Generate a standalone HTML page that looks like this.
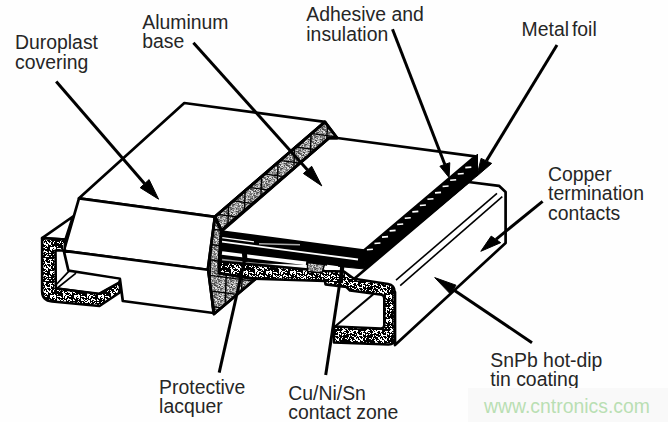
<!DOCTYPE html>
<html><head><meta charset="utf-8"><style>
html,body{margin:0;padding:0;background:#fff;}
svg{display:block;}
text{font-family:"Liberation Sans",sans-serif;font-size:19.4px;fill:#262626;}
</style></head><body>
<svg width="668" height="422" viewBox="0 0 668 422">
<defs><pattern id="st" width="24" height="24" patternUnits="userSpaceOnUse"><rect width="24" height="24" fill="#fff"/><g fill="#000"><rect x="0" y="0" width="1" height="1"/><rect x="1" y="0" width="1" height="1"/><rect x="3" y="0" width="1" height="1"/><rect x="4" y="0" width="1" height="1"/><rect x="5" y="0" width="1" height="1"/><rect x="6" y="0" width="1" height="1"/><rect x="7" y="0" width="1" height="1"/><rect x="8" y="0" width="1" height="1"/><rect x="9" y="0" width="1" height="1"/><rect x="10" y="0" width="1" height="1"/><rect x="11" y="0" width="1" height="1"/><rect x="12" y="0" width="1" height="1"/><rect x="14" y="0" width="1" height="1"/><rect x="15" y="0" width="1" height="1"/><rect x="18" y="0" width="1" height="1"/><rect x="19" y="0" width="1" height="1"/><rect x="21" y="0" width="1" height="1"/><rect x="23" y="0" width="1" height="1"/><rect x="0" y="1" width="1" height="1"/><rect x="1" y="1" width="1" height="1"/><rect x="2" y="1" width="1" height="1"/><rect x="4" y="1" width="1" height="1"/><rect x="5" y="1" width="1" height="1"/><rect x="7" y="1" width="1" height="1"/><rect x="8" y="1" width="1" height="1"/><rect x="9" y="1" width="1" height="1"/><rect x="10" y="1" width="1" height="1"/><rect x="11" y="1" width="1" height="1"/><rect x="13" y="1" width="1" height="1"/><rect x="14" y="1" width="1" height="1"/><rect x="15" y="1" width="1" height="1"/><rect x="16" y="1" width="1" height="1"/><rect x="17" y="1" width="1" height="1"/><rect x="20" y="1" width="1" height="1"/><rect x="21" y="1" width="1" height="1"/><rect x="22" y="1" width="1" height="1"/><rect x="1" y="2" width="1" height="1"/><rect x="3" y="2" width="1" height="1"/><rect x="4" y="2" width="1" height="1"/><rect x="6" y="2" width="1" height="1"/><rect x="7" y="2" width="1" height="1"/><rect x="8" y="2" width="1" height="1"/><rect x="11" y="2" width="1" height="1"/><rect x="13" y="2" width="1" height="1"/><rect x="15" y="2" width="1" height="1"/><rect x="16" y="2" width="1" height="1"/><rect x="17" y="2" width="1" height="1"/><rect x="20" y="2" width="1" height="1"/><rect x="22" y="2" width="1" height="1"/><rect x="3" y="3" width="1" height="1"/><rect x="4" y="3" width="1" height="1"/><rect x="6" y="3" width="1" height="1"/><rect x="7" y="3" width="1" height="1"/><rect x="8" y="3" width="1" height="1"/><rect x="9" y="3" width="1" height="1"/><rect x="10" y="3" width="1" height="1"/><rect x="12" y="3" width="1" height="1"/><rect x="13" y="3" width="1" height="1"/><rect x="14" y="3" width="1" height="1"/><rect x="16" y="3" width="1" height="1"/><rect x="17" y="3" width="1" height="1"/><rect x="18" y="3" width="1" height="1"/><rect x="22" y="3" width="1" height="1"/><rect x="23" y="3" width="1" height="1"/><rect x="0" y="4" width="1" height="1"/><rect x="3" y="4" width="1" height="1"/><rect x="4" y="4" width="1" height="1"/><rect x="5" y="4" width="1" height="1"/><rect x="6" y="4" width="1" height="1"/><rect x="7" y="4" width="1" height="1"/><rect x="8" y="4" width="1" height="1"/><rect x="9" y="4" width="1" height="1"/><rect x="10" y="4" width="1" height="1"/><rect x="11" y="4" width="1" height="1"/><rect x="12" y="4" width="1" height="1"/><rect x="13" y="4" width="1" height="1"/><rect x="16" y="4" width="1" height="1"/><rect x="19" y="4" width="1" height="1"/><rect x="0" y="5" width="1" height="1"/><rect x="1" y="5" width="1" height="1"/><rect x="2" y="5" width="1" height="1"/><rect x="4" y="5" width="1" height="1"/><rect x="5" y="5" width="1" height="1"/><rect x="6" y="5" width="1" height="1"/><rect x="7" y="5" width="1" height="1"/><rect x="8" y="5" width="1" height="1"/><rect x="9" y="5" width="1" height="1"/><rect x="10" y="5" width="1" height="1"/><rect x="11" y="5" width="1" height="1"/><rect x="12" y="5" width="1" height="1"/><rect x="13" y="5" width="1" height="1"/><rect x="14" y="5" width="1" height="1"/><rect x="17" y="5" width="1" height="1"/><rect x="18" y="5" width="1" height="1"/><rect x="19" y="5" width="1" height="1"/><rect x="20" y="5" width="1" height="1"/><rect x="21" y="5" width="1" height="1"/><rect x="0" y="6" width="1" height="1"/><rect x="1" y="6" width="1" height="1"/><rect x="2" y="6" width="1" height="1"/><rect x="3" y="6" width="1" height="1"/><rect x="4" y="6" width="1" height="1"/><rect x="5" y="6" width="1" height="1"/><rect x="7" y="6" width="1" height="1"/><rect x="8" y="6" width="1" height="1"/><rect x="10" y="6" width="1" height="1"/><rect x="11" y="6" width="1" height="1"/><rect x="12" y="6" width="1" height="1"/><rect x="13" y="6" width="1" height="1"/><rect x="14" y="6" width="1" height="1"/><rect x="18" y="6" width="1" height="1"/><rect x="19" y="6" width="1" height="1"/><rect x="20" y="6" width="1" height="1"/><rect x="22" y="6" width="1" height="1"/><rect x="0" y="7" width="1" height="1"/><rect x="1" y="7" width="1" height="1"/><rect x="8" y="7" width="1" height="1"/><rect x="9" y="7" width="1" height="1"/><rect x="10" y="7" width="1" height="1"/><rect x="11" y="7" width="1" height="1"/><rect x="12" y="7" width="1" height="1"/><rect x="13" y="7" width="1" height="1"/><rect x="14" y="7" width="1" height="1"/><rect x="17" y="7" width="1" height="1"/><rect x="21" y="7" width="1" height="1"/><rect x="22" y="7" width="1" height="1"/><rect x="23" y="7" width="1" height="1"/><rect x="0" y="8" width="1" height="1"/><rect x="1" y="8" width="1" height="1"/><rect x="5" y="8" width="1" height="1"/><rect x="8" y="8" width="1" height="1"/><rect x="13" y="8" width="1" height="1"/><rect x="14" y="8" width="1" height="1"/><rect x="16" y="8" width="1" height="1"/><rect x="19" y="8" width="1" height="1"/><rect x="20" y="8" width="1" height="1"/><rect x="23" y="8" width="1" height="1"/><rect x="0" y="9" width="1" height="1"/><rect x="1" y="9" width="1" height="1"/><rect x="4" y="9" width="1" height="1"/><rect x="8" y="9" width="1" height="1"/><rect x="9" y="9" width="1" height="1"/><rect x="10" y="9" width="1" height="1"/><rect x="11" y="9" width="1" height="1"/><rect x="14" y="9" width="1" height="1"/><rect x="16" y="9" width="1" height="1"/><rect x="19" y="9" width="1" height="1"/><rect x="20" y="9" width="1" height="1"/><rect x="21" y="9" width="1" height="1"/><rect x="22" y="9" width="1" height="1"/><rect x="23" y="9" width="1" height="1"/><rect x="0" y="10" width="1" height="1"/><rect x="1" y="10" width="1" height="1"/><rect x="2" y="10" width="1" height="1"/><rect x="4" y="10" width="1" height="1"/><rect x="5" y="10" width="1" height="1"/><rect x="6" y="10" width="1" height="1"/><rect x="8" y="10" width="1" height="1"/><rect x="10" y="10" width="1" height="1"/><rect x="11" y="10" width="1" height="1"/><rect x="12" y="10" width="1" height="1"/><rect x="13" y="10" width="1" height="1"/><rect x="14" y="10" width="1" height="1"/><rect x="15" y="10" width="1" height="1"/><rect x="16" y="10" width="1" height="1"/><rect x="18" y="10" width="1" height="1"/><rect x="19" y="10" width="1" height="1"/><rect x="21" y="10" width="1" height="1"/><rect x="22" y="10" width="1" height="1"/><rect x="23" y="10" width="1" height="1"/><rect x="0" y="11" width="1" height="1"/><rect x="2" y="11" width="1" height="1"/><rect x="3" y="11" width="1" height="1"/><rect x="4" y="11" width="1" height="1"/><rect x="5" y="11" width="1" height="1"/><rect x="7" y="11" width="1" height="1"/><rect x="8" y="11" width="1" height="1"/><rect x="11" y="11" width="1" height="1"/><rect x="13" y="11" width="1" height="1"/><rect x="14" y="11" width="1" height="1"/><rect x="16" y="11" width="1" height="1"/><rect x="17" y="11" width="1" height="1"/><rect x="18" y="11" width="1" height="1"/><rect x="23" y="11" width="1" height="1"/><rect x="0" y="12" width="1" height="1"/><rect x="3" y="12" width="1" height="1"/><rect x="4" y="12" width="1" height="1"/><rect x="5" y="12" width="1" height="1"/><rect x="6" y="12" width="1" height="1"/><rect x="7" y="12" width="1" height="1"/><rect x="8" y="12" width="1" height="1"/><rect x="12" y="12" width="1" height="1"/><rect x="15" y="12" width="1" height="1"/><rect x="18" y="12" width="1" height="1"/><rect x="20" y="12" width="1" height="1"/><rect x="21" y="12" width="1" height="1"/><rect x="0" y="13" width="1" height="1"/><rect x="1" y="13" width="1" height="1"/><rect x="2" y="13" width="1" height="1"/><rect x="3" y="13" width="1" height="1"/><rect x="4" y="13" width="1" height="1"/><rect x="5" y="13" width="1" height="1"/><rect x="7" y="13" width="1" height="1"/><rect x="8" y="13" width="1" height="1"/><rect x="9" y="13" width="1" height="1"/><rect x="10" y="13" width="1" height="1"/><rect x="11" y="13" width="1" height="1"/><rect x="13" y="13" width="1" height="1"/><rect x="14" y="13" width="1" height="1"/><rect x="18" y="13" width="1" height="1"/><rect x="19" y="13" width="1" height="1"/><rect x="20" y="13" width="1" height="1"/><rect x="22" y="13" width="1" height="1"/><rect x="23" y="13" width="1" height="1"/><rect x="0" y="14" width="1" height="1"/><rect x="3" y="14" width="1" height="1"/><rect x="4" y="14" width="1" height="1"/><rect x="6" y="14" width="1" height="1"/><rect x="8" y="14" width="1" height="1"/><rect x="9" y="14" width="1" height="1"/><rect x="11" y="14" width="1" height="1"/><rect x="12" y="14" width="1" height="1"/><rect x="16" y="14" width="1" height="1"/><rect x="18" y="14" width="1" height="1"/><rect x="20" y="14" width="1" height="1"/><rect x="21" y="14" width="1" height="1"/><rect x="22" y="14" width="1" height="1"/><rect x="0" y="15" width="1" height="1"/><rect x="1" y="15" width="1" height="1"/><rect x="2" y="15" width="1" height="1"/><rect x="3" y="15" width="1" height="1"/><rect x="4" y="15" width="1" height="1"/><rect x="5" y="15" width="1" height="1"/><rect x="6" y="15" width="1" height="1"/><rect x="7" y="15" width="1" height="1"/><rect x="8" y="15" width="1" height="1"/><rect x="9" y="15" width="1" height="1"/><rect x="11" y="15" width="1" height="1"/><rect x="12" y="15" width="1" height="1"/><rect x="13" y="15" width="1" height="1"/><rect x="14" y="15" width="1" height="1"/><rect x="15" y="15" width="1" height="1"/><rect x="16" y="15" width="1" height="1"/><rect x="17" y="15" width="1" height="1"/><rect x="19" y="15" width="1" height="1"/><rect x="20" y="15" width="1" height="1"/><rect x="21" y="15" width="1" height="1"/><rect x="23" y="15" width="1" height="1"/><rect x="1" y="16" width="1" height="1"/><rect x="2" y="16" width="1" height="1"/><rect x="4" y="16" width="1" height="1"/><rect x="5" y="16" width="1" height="1"/><rect x="8" y="16" width="1" height="1"/><rect x="12" y="16" width="1" height="1"/><rect x="13" y="16" width="1" height="1"/><rect x="14" y="16" width="1" height="1"/><rect x="15" y="16" width="1" height="1"/><rect x="16" y="16" width="1" height="1"/><rect x="18" y="16" width="1" height="1"/><rect x="19" y="16" width="1" height="1"/><rect x="20" y="16" width="1" height="1"/><rect x="0" y="17" width="1" height="1"/><rect x="1" y="17" width="1" height="1"/><rect x="2" y="17" width="1" height="1"/><rect x="3" y="17" width="1" height="1"/><rect x="4" y="17" width="1" height="1"/><rect x="5" y="17" width="1" height="1"/><rect x="6" y="17" width="1" height="1"/><rect x="9" y="17" width="1" height="1"/><rect x="10" y="17" width="1" height="1"/><rect x="12" y="17" width="1" height="1"/><rect x="13" y="17" width="1" height="1"/><rect x="14" y="17" width="1" height="1"/><rect x="15" y="17" width="1" height="1"/><rect x="16" y="17" width="1" height="1"/><rect x="17" y="17" width="1" height="1"/><rect x="18" y="17" width="1" height="1"/><rect x="19" y="17" width="1" height="1"/><rect x="20" y="17" width="1" height="1"/><rect x="21" y="17" width="1" height="1"/><rect x="22" y="17" width="1" height="1"/><rect x="23" y="17" width="1" height="1"/><rect x="0" y="18" width="1" height="1"/><rect x="1" y="18" width="1" height="1"/><rect x="2" y="18" width="1" height="1"/><rect x="3" y="18" width="1" height="1"/><rect x="4" y="18" width="1" height="1"/><rect x="5" y="18" width="1" height="1"/><rect x="10" y="18" width="1" height="1"/><rect x="11" y="18" width="1" height="1"/><rect x="13" y="18" width="1" height="1"/><rect x="16" y="18" width="1" height="1"/><rect x="22" y="18" width="1" height="1"/><rect x="23" y="18" width="1" height="1"/><rect x="0" y="19" width="1" height="1"/><rect x="4" y="19" width="1" height="1"/><rect x="8" y="19" width="1" height="1"/><rect x="9" y="19" width="1" height="1"/><rect x="10" y="19" width="1" height="1"/><rect x="11" y="19" width="1" height="1"/><rect x="12" y="19" width="1" height="1"/><rect x="14" y="19" width="1" height="1"/><rect x="18" y="19" width="1" height="1"/><rect x="19" y="19" width="1" height="1"/><rect x="22" y="19" width="1" height="1"/><rect x="23" y="19" width="1" height="1"/><rect x="1" y="20" width="1" height="1"/><rect x="3" y="20" width="1" height="1"/><rect x="4" y="20" width="1" height="1"/><rect x="5" y="20" width="1" height="1"/><rect x="7" y="20" width="1" height="1"/><rect x="10" y="20" width="1" height="1"/><rect x="11" y="20" width="1" height="1"/><rect x="12" y="20" width="1" height="1"/><rect x="17" y="20" width="1" height="1"/><rect x="18" y="20" width="1" height="1"/><rect x="19" y="20" width="1" height="1"/><rect x="21" y="20" width="1" height="1"/><rect x="22" y="20" width="1" height="1"/><rect x="23" y="20" width="1" height="1"/><rect x="0" y="21" width="1" height="1"/><rect x="1" y="21" width="1" height="1"/><rect x="5" y="21" width="1" height="1"/><rect x="6" y="21" width="1" height="1"/><rect x="7" y="21" width="1" height="1"/><rect x="8" y="21" width="1" height="1"/><rect x="9" y="21" width="1" height="1"/><rect x="11" y="21" width="1" height="1"/><rect x="14" y="21" width="1" height="1"/><rect x="15" y="21" width="1" height="1"/><rect x="18" y="21" width="1" height="1"/><rect x="19" y="21" width="1" height="1"/><rect x="20" y="21" width="1" height="1"/><rect x="22" y="21" width="1" height="1"/><rect x="23" y="21" width="1" height="1"/><rect x="0" y="22" width="1" height="1"/><rect x="1" y="22" width="1" height="1"/><rect x="3" y="22" width="1" height="1"/><rect x="5" y="22" width="1" height="1"/><rect x="8" y="22" width="1" height="1"/><rect x="10" y="22" width="1" height="1"/><rect x="11" y="22" width="1" height="1"/><rect x="12" y="22" width="1" height="1"/><rect x="13" y="22" width="1" height="1"/><rect x="14" y="22" width="1" height="1"/><rect x="15" y="22" width="1" height="1"/><rect x="16" y="22" width="1" height="1"/><rect x="17" y="22" width="1" height="1"/><rect x="18" y="22" width="1" height="1"/><rect x="20" y="22" width="1" height="1"/><rect x="23" y="22" width="1" height="1"/><rect x="3" y="23" width="1" height="1"/><rect x="4" y="23" width="1" height="1"/><rect x="5" y="23" width="1" height="1"/><rect x="7" y="23" width="1" height="1"/><rect x="8" y="23" width="1" height="1"/><rect x="9" y="23" width="1" height="1"/><rect x="10" y="23" width="1" height="1"/><rect x="11" y="23" width="1" height="1"/><rect x="12" y="23" width="1" height="1"/><rect x="14" y="23" width="1" height="1"/><rect x="16" y="23" width="1" height="1"/><rect x="17" y="23" width="1" height="1"/><rect x="18" y="23" width="1" height="1"/><rect x="19" y="23" width="1" height="1"/><rect x="20" y="23" width="1" height="1"/></g></pattern><pattern id="st2" width="12" height="12" patternUnits="userSpaceOnUse"><rect x="0" y="0" width="1" height="1" fill="rgb(221,221,221)"/><rect x="1" y="0" width="1" height="1" fill="rgb(162,162,162)"/><rect x="2" y="0" width="1" height="1" fill="rgb(201,201,201)"/><rect x="3" y="0" width="1" height="1" fill="rgb(200,200,200)"/><rect x="4" y="0" width="1" height="1" fill="rgb(112,112,112)"/><rect x="5" y="0" width="1" height="1" fill="rgb(80,80,80)"/><rect x="6" y="0" width="1" height="1" fill="rgb(72,72,72)"/><rect x="7" y="0" width="1" height="1" fill="rgb(165,165,165)"/><rect x="8" y="0" width="1" height="1" fill="rgb(175,175,175)"/><rect x="9" y="0" width="1" height="1" fill="rgb(217,217,217)"/><rect x="10" y="0" width="1" height="1" fill="rgb(95,95,95)"/><rect x="11" y="0" width="1" height="1" fill="rgb(224,224,224)"/><rect x="0" y="1" width="1" height="1" fill="rgb(133,133,133)"/><rect x="1" y="1" width="1" height="1" fill="rgb(184,184,184)"/><rect x="2" y="1" width="1" height="1" fill="rgb(72,72,72)"/><rect x="3" y="1" width="1" height="1" fill="rgb(200,200,200)"/><rect x="4" y="1" width="1" height="1" fill="rgb(92,92,92)"/><rect x="5" y="1" width="1" height="1" fill="rgb(103,103,103)"/><rect x="6" y="1" width="1" height="1" fill="rgb(180,180,180)"/><rect x="7" y="1" width="1" height="1" fill="rgb(166,166,166)"/><rect x="8" y="1" width="1" height="1" fill="rgb(147,147,147)"/><rect x="9" y="1" width="1" height="1" fill="rgb(132,132,132)"/><rect x="10" y="1" width="1" height="1" fill="rgb(136,136,136)"/><rect x="11" y="1" width="1" height="1" fill="rgb(125,125,125)"/><rect x="0" y="2" width="1" height="1" fill="rgb(227,227,227)"/><rect x="1" y="2" width="1" height="1" fill="rgb(126,126,126)"/><rect x="2" y="2" width="1" height="1" fill="rgb(163,163,163)"/><rect x="3" y="2" width="1" height="1" fill="rgb(227,227,227)"/><rect x="4" y="2" width="1" height="1" fill="rgb(121,121,121)"/><rect x="5" y="2" width="1" height="1" fill="rgb(137,137,137)"/><rect x="6" y="2" width="1" height="1" fill="rgb(183,183,183)"/><rect x="7" y="2" width="1" height="1" fill="rgb(202,202,202)"/><rect x="8" y="2" width="1" height="1" fill="rgb(231,231,231)"/><rect x="9" y="2" width="1" height="1" fill="rgb(160,160,160)"/><rect x="10" y="2" width="1" height="1" fill="rgb(90,90,90)"/><rect x="11" y="2" width="1" height="1" fill="rgb(102,102,102)"/><rect x="0" y="3" width="1" height="1" fill="rgb(224,224,224)"/><rect x="1" y="3" width="1" height="1" fill="rgb(101,101,101)"/><rect x="2" y="3" width="1" height="1" fill="rgb(79,79,79)"/><rect x="3" y="3" width="1" height="1" fill="rgb(113,113,113)"/><rect x="4" y="3" width="1" height="1" fill="rgb(188,188,188)"/><rect x="5" y="3" width="1" height="1" fill="rgb(187,187,187)"/><rect x="6" y="3" width="1" height="1" fill="rgb(200,200,200)"/><rect x="7" y="3" width="1" height="1" fill="rgb(116,116,116)"/><rect x="8" y="3" width="1" height="1" fill="rgb(175,175,175)"/><rect x="9" y="3" width="1" height="1" fill="rgb(145,145,145)"/><rect x="10" y="3" width="1" height="1" fill="rgb(175,175,175)"/><rect x="11" y="3" width="1" height="1" fill="rgb(169,169,169)"/><rect x="0" y="4" width="1" height="1" fill="rgb(95,95,95)"/><rect x="1" y="4" width="1" height="1" fill="rgb(200,200,200)"/><rect x="2" y="4" width="1" height="1" fill="rgb(109,109,109)"/><rect x="3" y="4" width="1" height="1" fill="rgb(122,122,122)"/><rect x="4" y="4" width="1" height="1" fill="rgb(83,83,83)"/><rect x="5" y="4" width="1" height="1" fill="rgb(104,104,104)"/><rect x="6" y="4" width="1" height="1" fill="rgb(147,147,147)"/><rect x="7" y="4" width="1" height="1" fill="rgb(202,202,202)"/><rect x="8" y="4" width="1" height="1" fill="rgb(83,83,83)"/><rect x="9" y="4" width="1" height="1" fill="rgb(141,141,141)"/><rect x="10" y="4" width="1" height="1" fill="rgb(121,121,121)"/><rect x="11" y="4" width="1" height="1" fill="rgb(154,154,154)"/><rect x="0" y="5" width="1" height="1" fill="rgb(126,126,126)"/><rect x="1" y="5" width="1" height="1" fill="rgb(205,205,205)"/><rect x="2" y="5" width="1" height="1" fill="rgb(111,111,111)"/><rect x="3" y="5" width="1" height="1" fill="rgb(65,65,65)"/><rect x="4" y="5" width="1" height="1" fill="rgb(165,165,165)"/><rect x="5" y="5" width="1" height="1" fill="rgb(158,158,158)"/><rect x="6" y="5" width="1" height="1" fill="rgb(165,165,165)"/><rect x="7" y="5" width="1" height="1" fill="rgb(194,194,194)"/><rect x="8" y="5" width="1" height="1" fill="rgb(113,113,113)"/><rect x="9" y="5" width="1" height="1" fill="rgb(156,156,156)"/><rect x="10" y="5" width="1" height="1" fill="rgb(129,129,129)"/><rect x="11" y="5" width="1" height="1" fill="rgb(146,146,146)"/><rect x="0" y="6" width="1" height="1" fill="rgb(75,75,75)"/><rect x="1" y="6" width="1" height="1" fill="rgb(187,187,187)"/><rect x="2" y="6" width="1" height="1" fill="rgb(131,131,131)"/><rect x="3" y="6" width="1" height="1" fill="rgb(207,207,207)"/><rect x="4" y="6" width="1" height="1" fill="rgb(152,152,152)"/><rect x="5" y="6" width="1" height="1" fill="rgb(92,92,92)"/><rect x="6" y="6" width="1" height="1" fill="rgb(235,235,235)"/><rect x="7" y="6" width="1" height="1" fill="rgb(188,188,188)"/><rect x="8" y="6" width="1" height="1" fill="rgb(195,195,195)"/><rect x="9" y="6" width="1" height="1" fill="rgb(221,221,221)"/><rect x="10" y="6" width="1" height="1" fill="rgb(115,115,115)"/><rect x="11" y="6" width="1" height="1" fill="rgb(83,83,83)"/><rect x="0" y="7" width="1" height="1" fill="rgb(129,129,129)"/><rect x="1" y="7" width="1" height="1" fill="rgb(123,123,123)"/><rect x="2" y="7" width="1" height="1" fill="rgb(158,158,158)"/><rect x="3" y="7" width="1" height="1" fill="rgb(162,162,162)"/><rect x="4" y="7" width="1" height="1" fill="rgb(225,225,225)"/><rect x="5" y="7" width="1" height="1" fill="rgb(174,174,174)"/><rect x="6" y="7" width="1" height="1" fill="rgb(170,170,170)"/><rect x="7" y="7" width="1" height="1" fill="rgb(139,139,139)"/><rect x="8" y="7" width="1" height="1" fill="rgb(65,65,65)"/><rect x="9" y="7" width="1" height="1" fill="rgb(92,92,92)"/><rect x="10" y="7" width="1" height="1" fill="rgb(68,68,68)"/><rect x="11" y="7" width="1" height="1" fill="rgb(168,168,168)"/><rect x="0" y="8" width="1" height="1" fill="rgb(181,181,181)"/><rect x="1" y="8" width="1" height="1" fill="rgb(210,210,210)"/><rect x="2" y="8" width="1" height="1" fill="rgb(185,185,185)"/><rect x="3" y="8" width="1" height="1" fill="rgb(60,60,60)"/><rect x="4" y="8" width="1" height="1" fill="rgb(78,78,78)"/><rect x="5" y="8" width="1" height="1" fill="rgb(160,160,160)"/><rect x="6" y="8" width="1" height="1" fill="rgb(195,195,195)"/><rect x="7" y="8" width="1" height="1" fill="rgb(179,179,179)"/><rect x="8" y="8" width="1" height="1" fill="rgb(174,174,174)"/><rect x="9" y="8" width="1" height="1" fill="rgb(123,123,123)"/><rect x="10" y="8" width="1" height="1" fill="rgb(87,87,87)"/><rect x="11" y="8" width="1" height="1" fill="rgb(117,117,117)"/><rect x="0" y="9" width="1" height="1" fill="rgb(99,99,99)"/><rect x="1" y="9" width="1" height="1" fill="rgb(98,98,98)"/><rect x="2" y="9" width="1" height="1" fill="rgb(193,193,193)"/><rect x="3" y="9" width="1" height="1" fill="rgb(234,234,234)"/><rect x="4" y="9" width="1" height="1" fill="rgb(87,87,87)"/><rect x="5" y="9" width="1" height="1" fill="rgb(239,239,239)"/><rect x="6" y="9" width="1" height="1" fill="rgb(225,225,225)"/><rect x="7" y="9" width="1" height="1" fill="rgb(177,177,177)"/><rect x="8" y="9" width="1" height="1" fill="rgb(81,81,81)"/><rect x="9" y="9" width="1" height="1" fill="rgb(201,201,201)"/><rect x="10" y="9" width="1" height="1" fill="rgb(70,70,70)"/><rect x="11" y="9" width="1" height="1" fill="rgb(60,60,60)"/><rect x="0" y="10" width="1" height="1" fill="rgb(92,92,92)"/><rect x="1" y="10" width="1" height="1" fill="rgb(119,119,119)"/><rect x="2" y="10" width="1" height="1" fill="rgb(205,205,205)"/><rect x="3" y="10" width="1" height="1" fill="rgb(69,69,69)"/><rect x="4" y="10" width="1" height="1" fill="rgb(225,225,225)"/><rect x="5" y="10" width="1" height="1" fill="rgb(137,137,137)"/><rect x="6" y="10" width="1" height="1" fill="rgb(92,92,92)"/><rect x="7" y="10" width="1" height="1" fill="rgb(220,220,220)"/><rect x="8" y="10" width="1" height="1" fill="rgb(124,124,124)"/><rect x="9" y="10" width="1" height="1" fill="rgb(195,195,195)"/><rect x="10" y="10" width="1" height="1" fill="rgb(222,222,222)"/><rect x="11" y="10" width="1" height="1" fill="rgb(171,171,171)"/><rect x="0" y="11" width="1" height="1" fill="rgb(238,238,238)"/><rect x="1" y="11" width="1" height="1" fill="rgb(88,88,88)"/><rect x="2" y="11" width="1" height="1" fill="rgb(85,85,85)"/><rect x="3" y="11" width="1" height="1" fill="rgb(78,78,78)"/><rect x="4" y="11" width="1" height="1" fill="rgb(136,136,136)"/><rect x="5" y="11" width="1" height="1" fill="rgb(194,194,194)"/><rect x="6" y="11" width="1" height="1" fill="rgb(209,209,209)"/><rect x="7" y="11" width="1" height="1" fill="rgb(109,109,109)"/><rect x="8" y="11" width="1" height="1" fill="rgb(159,159,159)"/><rect x="9" y="11" width="1" height="1" fill="rgb(126,126,126)"/><rect x="10" y="11" width="1" height="1" fill="rgb(117,117,117)"/><rect x="11" y="11" width="1" height="1" fill="rgb(213,213,213)"/></pattern></defs>
<rect width="668" height="422" fill="#fefefe"/>
<path d="M354,279 L468.5,182 L499,185.8 L505.6,192 L505.6,243 L395,345 L395,292 Z" fill="#fff" stroke="#000" stroke-width="2.7" stroke-linejoin="round"/><polyline points="497,193.4 396,280.2" fill="none" stroke="#000" stroke-width="1.6" stroke-linejoin="round" stroke-linecap="butt"/><polyline points="502.3,196.6 400.2,285.6" fill="none" stroke="#000" stroke-width="1.6" stroke-linejoin="round" stroke-linecap="butt"/><polygon points="337.2,138 475.4,156.3 364,250.6 221.3,231.6 329,138" fill="#fff" stroke="#000" stroke-linejoin="round" stroke-width="2.7" /><polygon points="475.4,156.3 477.5,154.1 477.5,175.5 365.5,269.1 364,261.3 364,250.6" fill="#000" stroke="#000" stroke-linejoin="round" stroke-width="1" /><polygon points="221.3,231.6 364,250.6 364,261.3 365.5,269.1 344,267 325,265 219.5,261.5" fill="#000" stroke="#000" stroke-linejoin="round" stroke-width="1" /><polyline points="222,237.7 254,241.8" fill="none" stroke="#fff" stroke-width="1.3" stroke-linejoin="round" stroke-linecap="butt"/><polyline points="222,241.6 358,259.5" fill="none" stroke="#fff" stroke-width="1.8" stroke-linejoin="round" stroke-linecap="butt"/><polyline points="222,253 306,263.4" fill="none" stroke="#fff" stroke-width="3.6" stroke-linejoin="round" stroke-linecap="butt"/><polyline points="259,243.8 300,244.8" fill="none" stroke="#aaa" stroke-width="1.4" stroke-linejoin="round" stroke-linecap="butt"/><polyline points="222,259.9 306,269.6" fill="none" stroke="#9a9a9a" stroke-width="2.2" stroke-linejoin="round" stroke-linecap="butt"/><polyline points="327,266 338,267.5" fill="none" stroke="#fff" stroke-width="2.5" stroke-linejoin="round" stroke-linecap="butt"/><line x1="465.3" y1="167.6" x2="471.3" y2="167.1" stroke="#fff" stroke-width="1.6"/><line x1="457.7307692307692" y1="173.9230769230769" x2="463.7307692307692" y2="173.4230769230769" stroke="#fff" stroke-width="1.6"/><line x1="450.16153846153844" y1="180.24615384615385" x2="456.16153846153844" y2="179.74615384615385" stroke="#fff" stroke-width="1.6"/><line x1="442.5923076923077" y1="186.56923076923076" x2="448.5923076923077" y2="186.06923076923076" stroke="#fff" stroke-width="1.6"/><line x1="435.0230769230769" y1="192.8923076923077" x2="441.0230769230769" y2="192.3923076923077" stroke="#fff" stroke-width="1.6"/><line x1="427.45384615384614" y1="199.2153846153846" x2="433.45384615384614" y2="198.7153846153846" stroke="#fff" stroke-width="1.6"/><line x1="419.88461538461536" y1="205.53846153846155" x2="425.88461538461536" y2="205.03846153846155" stroke="#fff" stroke-width="1.6"/><line x1="412.31538461538463" y1="211.86153846153846" x2="418.31538461538463" y2="211.36153846153846" stroke="#fff" stroke-width="1.6"/><line x1="404.74615384615385" y1="218.1846153846154" x2="410.74615384615385" y2="217.6846153846154" stroke="#fff" stroke-width="1.6"/><line x1="397.17692307692306" y1="224.5076923076923" x2="403.17692307692306" y2="224.0076923076923" stroke="#fff" stroke-width="1.6"/><line x1="389.6076923076923" y1="230.83076923076925" x2="395.6076923076923" y2="230.33076923076925" stroke="#fff" stroke-width="1.6"/><line x1="382.03846153846155" y1="237.15384615384616" x2="388.03846153846155" y2="236.65384615384616" stroke="#fff" stroke-width="1.6"/><line x1="374.46923076923076" y1="243.47692307692307" x2="380.46923076923076" y2="242.97692307692307" stroke="#fff" stroke-width="1.6"/><line x1="366.9" y1="249.8" x2="372.9" y2="249.3" stroke="#fff" stroke-width="1.6"/><path d="M219.5,261.5 L325,271 L344,271.5 L354,278.8 L388,284 Q394.6,285 394.6,292 L394.6,339 Q394.6,344.5 388.5,344.5 L334,342.5 L334,326.5 L381,328.5 Q384.3,328.5 384.3,325 L384.3,299 Q384.3,294.5 380,294.5 L350,290.5 L346.5,287 L325.5,284.4 L325,281 L253.5,278.7 L219.5,274.5 Z" fill="url(#st)" stroke="#000" stroke-width="2.6" stroke-linejoin="round"/><polygon points="307.5,262.5 324.5,264.5 322,273 307.5,271.5" fill="url(#st2)" stroke="#000" stroke-linejoin="round" stroke-width="1.4" /><polyline points="335,326.5 373.5,294" fill="none" stroke="#000" stroke-width="2.2" stroke-linejoin="round" stroke-linecap="butt"/><polygon points="79,198.3 184.3,103 324.9,121.9 214.9,216.8" fill="#fff" stroke="#000" stroke-linejoin="round" stroke-width="2.7" /><polygon points="79,198.3 214.9,216.8 209.5,270 63.8,250.8" fill="#fff" stroke="#000" stroke-linejoin="round" stroke-width="2.7" /><polygon points="63.8,250.8 209.5,270 213.5,313 122.8,301 119.9,278.8 68.4,270.5" fill="#fff" stroke="#000" stroke-linejoin="round" stroke-width="2.7" /><polygon points="324.9,121.9 337.2,138 329,138 221.3,230.6 214.9,216.8" fill="url(#st2)" stroke="#000" stroke-linejoin="round" stroke-width="2.6" /><polygon points="214.9,216.8 221.3,230.6 219,262 219,273.2 253.5,278.7 256.4,278.2 214,314 208,268.5" fill="url(#st2)" stroke="#000" stroke-linejoin="round" stroke-width="2.6" /><clipPath id="cs"><polygon points="324.9,121.9 337.2,138 329,138 221.3,230.6 214.9,216.8"/><polygon points="214.9,216.8 221.3,230.6 219,262 219,273.2 253.5,278.7 256.4,278.2 214,314 208,268.5"/></clipPath><g clip-path="url(#cs)" stroke="#000" stroke-width="1.4"><line x1="150" y1="-197.4" x2="400" y2="-164.9" /><line x1="150" y1="-181.9" x2="400" y2="-149.4" /><line x1="150" y1="-166.4" x2="400" y2="-133.9" /><line x1="150" y1="-150.9" x2="400" y2="-118.4" /><line x1="150" y1="-135.4" x2="400" y2="-102.9" /><line x1="150" y1="-119.9" x2="400" y2="-87.4" /><line x1="150" y1="-104.4" x2="400" y2="-71.9" /><line x1="150" y1="-88.9" x2="400" y2="-56.400000000000006" /><line x1="150" y1="-73.4" x2="400" y2="-40.900000000000006" /><line x1="150" y1="-57.900000000000006" x2="400" y2="-25.400000000000006" /><line x1="150" y1="-42.400000000000006" x2="400" y2="-9.900000000000006" /><line x1="150" y1="-26.900000000000006" x2="400" y2="5.599999999999994" /><line x1="150" y1="-11.400000000000006" x2="400" y2="21.099999999999994" /><line x1="150" y1="4.099999999999994" x2="400" y2="36.599999999999994" /><line x1="150" y1="19.599999999999994" x2="400" y2="52.099999999999994" /><line x1="150" y1="35.099999999999994" x2="400" y2="67.6" /><line x1="150" y1="50.599999999999994" x2="400" y2="83.1" /><line x1="150" y1="66.1" x2="400" y2="98.6" /><line x1="150" y1="81.6" x2="400" y2="114.1" /><line x1="150" y1="97.1" x2="400" y2="129.6" /><line x1="150" y1="112.6" x2="400" y2="145.1" /><line x1="150" y1="128.1" x2="400" y2="160.6" /><line x1="150" y1="143.6" x2="400" y2="176.1" /><line x1="150" y1="159.1" x2="400" y2="191.6" /><line x1="150" y1="174.6" x2="400" y2="207.1" /><line x1="150" y1="190.1" x2="400" y2="222.6" /><line x1="150" y1="205.6" x2="400" y2="238.1" /><line x1="150" y1="221.1" x2="400" y2="253.6" /><line x1="150" y1="236.60000000000002" x2="400" y2="269.1" /><line x1="150" y1="252.10000000000002" x2="400" y2="284.6" /><line x1="150" y1="267.6" x2="400" y2="300.1" /><line x1="150" y1="283.1" x2="400" y2="315.6" /><line x1="150" y1="298.6" x2="400" y2="331.1" /><line x1="150" y1="314.1" x2="400" y2="346.6" /><line x1="150" y1="329.6" x2="400" y2="362.1" /><line x1="150" y1="345.1" x2="400" y2="377.6" /><line x1="150" y1="360.6" x2="400" y2="393.1" /><line x1="150" y1="376.1" x2="400" y2="408.6" /><line x1="150" y1="391.6" x2="400" y2="424.1" /><line x1="150" y1="407.1" x2="400" y2="439.6" /><line x1="120.25999999999999" y1="100" x2="112.25999999999999" y2="330" /><line x1="136.26" y1="100" x2="128.26" y2="330" /><line x1="152.26" y1="100" x2="144.26" y2="330" /><line x1="168.26" y1="100" x2="160.26" y2="330" /><line x1="184.26" y1="100" x2="176.26" y2="330" /><line x1="200.26" y1="100" x2="192.26" y2="330" /><line x1="216.26" y1="100" x2="208.26" y2="330" /><line x1="232.26" y1="100" x2="224.26" y2="330" /><line x1="248.26" y1="100" x2="240.26" y2="330" /><line x1="264.26" y1="100" x2="256.26" y2="330" /><line x1="280.26" y1="100" x2="272.26" y2="330" /><line x1="296.26" y1="100" x2="288.26" y2="330" /><line x1="312.26" y1="100" x2="304.26" y2="330" /><line x1="328.26" y1="100" x2="320.26" y2="330" /><line x1="344.26" y1="100" x2="336.26" y2="330" /><line x1="360.26" y1="100" x2="352.26" y2="330" /><line x1="376.26" y1="100" x2="368.26" y2="330" /><line x1="392.26" y1="100" x2="384.26" y2="330" /><line x1="408.26" y1="100" x2="400.26" y2="330" /><line x1="424.26" y1="100" x2="416.26" y2="330" /><line x1="440.26" y1="100" x2="432.26" y2="330" /><line x1="456.26" y1="100" x2="448.26" y2="330" /><line x1="472.26" y1="100" x2="464.26" y2="330" /><line x1="488.26" y1="100" x2="480.26" y2="330" /><line x1="504.26" y1="100" x2="496.26" y2="330" /></g><polygon points="324.9,121.9 337.2,138 329,138 221.3,230.6 214.9,216.8" fill="none" stroke="#000" stroke-linejoin="round" stroke-width="2.8" /><polygon points="214.9,216.8 221.3,230.6 219,262 219,273.2 253.5,278.7 256.4,278.2 214,314 208,268.5" fill="none" stroke="#000" stroke-linejoin="round" stroke-width="2.8" /><polygon points="42.1,238.1 73,216.5 65.5,239.5" fill="#fff" stroke="#000" stroke-linejoin="round" stroke-width="2.7" /><polygon points="56,288 56.3,284.5 69,271.2 119.9,278.8 118.8,283 99,293.8" fill="#fff" stroke="#000" stroke-linejoin="round" stroke-width="1.8" /><polyline points="57.4,288 76,273.2" fill="none" stroke="#000" stroke-width="1.7" stroke-linejoin="round" stroke-linecap="butt"/><path d="M42.1,238.1 L65.3,239.5 L64.5,250.5 L55.5,250.5 L55.8,288.5 L99,293.8 L119.5,282.5 L120.5,292 L99.5,306 L52,301.5 Q42.1,300.5 42.1,291 Z" fill="url(#st)" stroke="#000" stroke-width="2.6" stroke-linejoin="round"/><line x1="56.2" y1="81.4" x2="144.64999999999998" y2="183.64999999999998" stroke="#000" stroke-width="3"/><polygon points="158.6,199.2 140.2,187.7 149.1,179.6" fill="#000" stroke="#000" stroke-width="1"/><line x1="193.4" y1="42.7" x2="307.54999999999995" y2="169.9" stroke="#000" stroke-width="3"/><polygon points="321.8,185.9 303.4,173.5 311.7,166.3" fill="#000" stroke="#000" stroke-width="1"/><line x1="392.5" y1="29.3" x2="444.85" y2="164.45" stroke="#000" stroke-width="3"/><polygon points="449.1,177.6 439.9,166.2 449.8,162.7" fill="#000" stroke="#000" stroke-width="1"/><line x1="557" y1="45" x2="486.4" y2="160.9" stroke="#000" stroke-width="3"/><polygon points="476.8,176.2 481.1,158.4 491.7,163.4" fill="#000" stroke="#000" stroke-width="1"/><line x1="542.6" y1="201.3" x2="495.95" y2="239.39999999999998" stroke="#000" stroke-width="3"/><polygon points="480.8,251.3 491.2,236.1 500.7,242.7" fill="#000" stroke="#000" stroke-width="1"/><line x1="532" y1="342.7" x2="453.1" y2="289.5" stroke="#000" stroke-width="3"/><polygon points="434.7,277.6 456,285.2 450.2,293.8" fill="#000" stroke="#000" stroke-width="1"/><polyline points="219.2,372.7 245.5,256" fill="none" stroke="#000" stroke-width="3" stroke-linejoin="round" stroke-linecap="butt"/><polyline points="245.2,262 244.2,251" fill="none" stroke="#000" stroke-width="5" stroke-linejoin="round" stroke-linecap="butt"/><polyline points="325.7,375.1 342.2,267" fill="none" stroke="#000" stroke-width="3" stroke-linejoin="round" stroke-linecap="butt"/><polyline points="340.8,283 342.6,262" fill="none" stroke="#000" stroke-width="4.2" stroke-linejoin="round" stroke-linecap="butt"/>
<g><text x="15" y="49">Duroplast</text><text x="15" y="68.5">covering</text><text x="142.3" y="29">Aluminum</text><text x="142.3" y="48">base</text><text x="306.3" y="21.3">Adhesive and</text><text x="306.3" y="41">insulation</text><text x="521.6" y="36.4" word-spacing="-2.5">Metal foil</text><text x="548" y="180.8">Copper</text><text x="548" y="200.4">termination</text><text x="548" y="219.7">contacts</text><text x="490.3" y="367">SnPb hot-dip</text><text x="490.3" y="385.8">tin coating</text><text x="159.1" y="393.7">Protective</text><text x="159.1" y="413.4">lacquer</text><text x="288.3" y="399.6">Cu/Ni/Sn</text><text x="288.3" y="419">contact zone</text></g>
<rect x="468" y="388" width="200" height="34" fill="#f9f9f9"/>
<text x="484" y="413.1" style="fill:#b9dfb3">www.cntronics.com</text>
</svg>
</body></html>
